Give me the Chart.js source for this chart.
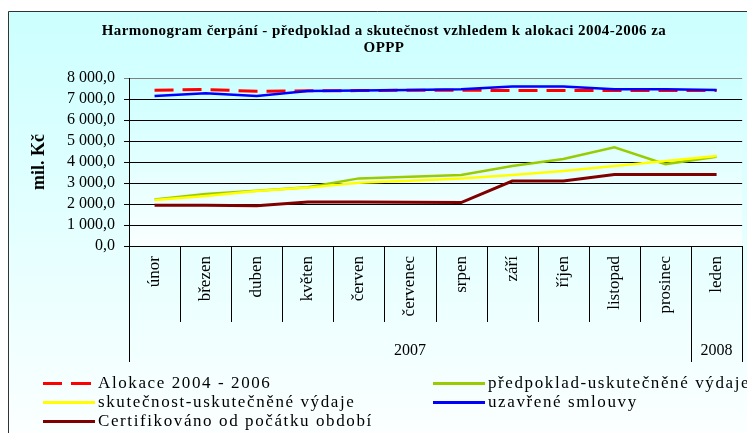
<!DOCTYPE html>
<html>
<head>
<meta charset="utf-8">
<script src="https://cdn.jsdelivr.net/npm/chart.js@4/dist/chart.umd.min.js"></script>
<style>
  html, body { margin: 0; padding: 0; background: #ffffff; }
  #wrap { position: relative; width: 747px; height: 433px; overflow: hidden; }
  #c { position: absolute; left: 0; top: 0; }
  .title { position: absolute; left: 0; width: 768px; text-align: center; font: bold 15px "Liberation Serif", serif; color: #000; letter-spacing: 0.45px; line-height: 17px; }
  .leg { position: absolute; font: 17px "Liberation Serif", serif; color: #000; letter-spacing: 1.6px; white-space: nowrap; line-height: 19px; }
  .sw { position: absolute; height: 0; }
</style>
</head>
<body>
<div id="wrap">
  <canvas id="c" width="747" height="433"></canvas>
  <div class="title" id="title" style="top:22px"></div>
  <div id="legend"></div>
</div>
<script>
// ---- data ----
const categories = ['únor','březen','duben','květen','červen','červenec','srpen','září','říjen','listopad','prosinec','leden'];
const years = ['2007','2008'];
const yearSpans = [11, 1];
const titleLines = ['Harmonogram čerpání - předpoklad a skutečnost vzhledem k alokaci 2004-2006 za', 'OPPP'];
const yAxisTitle = 'mil. Kč';
const alokace = [7420, 7450, 7370, 7390, 7400, 7420, 7420, 7400, 7400, 7400, 7400, 7400];
const predpoklad = [2220, 2480, 2630, 2800, 3220, 3300, 3380, 3810, 4140, 4700, 3900, 4250];
const skutecnost = [2190, 2380, 2620, 2780, 3010, 3110, 3220, 3380, 3570, 3810, 4050, 4290];
const smlouvy = [7140, 7270, 7140, 7380, 7400, 7430, 7460, 7590, 7590, 7460, 7460, 7430];
const certifikovano = [1940, 1940, 1920, 2100, 2100, 2080, 2070, 3095, 3095, 3410, 3410, 3410];
const seriesNames = ['Alokace 2004 - 2006', 'předpoklad-uskutečněné výdaje', 'skutečnost-uskutečněné výdaje', 'uzavřené smlouvy', 'Certifikováno od počátku období'];
const yMin = 0, yMax = 8000, yStep = 1000;

function fmt(v) {
  const s = Math.round(v).toString().replace(/\B(?=(\d{3})+(?!\d))/g, ' ');
  return s + ',0';
}

document.getElementById('title').innerHTML = titleLines.join('<br>');

const colors = ['#FF0000', '#99CC00', '#FFFF00', '#0000FF', '#800000'];
const seriesData = [alokace, predpoklad, skutecnost, smlouvy, certifikovano];
const orders = [4, 3, 2, 0, 1];

const datasets = seriesData.map((d, i) => ({
  label: seriesNames[i],
  data: d,
  borderColor: colors[i],
  backgroundColor: colors[i],
  borderWidth: i === 0 ? 3 : (i === 4 ? 3 : 2.5),
  borderDash: i === 0 ? [19, 9] : [],
  pointRadius: 0,
  tension: 0,
  fill: false,
  order: orders[i]
}));

// legend (HTML)
const legendPos = [
  {x: 43, y: 383}, {x: 433, y: 383},
  {x: 43, y: 402}, {x: 433, y: 402},
  {x: 43, y: 421}
];
const legEl = document.getElementById('legend');
seriesNames.forEach((name, i) => {
  const p = legendPos[i];
  const sw = document.createElement('div');
  sw.className = 'sw';
  sw.style.left = p.x + 'px';
  sw.style.top = (p.y - 1.5) + 'px';
  sw.style.width = '52px';
  if (i === 0) {
    sw.style.width = '48px';
    sw.style.height = '3px';
    sw.style.background = 'linear-gradient(to right, ' + colors[i] + ' 0 19px, transparent 19px 28px, ' + colors[i] + ' 28px 48px)';
  } else {
    sw.style.borderTop = '3px solid ' + colors[i];
  }
  legEl.appendChild(sw);
  const t = document.createElement('div');
  t.className = 'leg';
  t.style.left = (p.x + 55) + 'px';
  t.style.top = (p.y - 10) + 'px';
  t.textContent = name;
  legEl.appendChild(t);
});

const bgPlugin = {
  id: 'bg',
  beforeDraw(chart) {
    const ctx = chart.ctx;
    const ca = chart.chartArea;
    ctx.save();
    ctx.fillStyle = '#ffffff';
    ctx.fillRect(0, 0, chart.width, chart.height);
    const g = ctx.createLinearGradient(0, 11, 0, 433);
    g.addColorStop(0, '#CCFFFF');
    g.addColorStop(1, '#FBFFFF');
    ctx.fillStyle = g;
    ctx.fillRect(8, 11, chart.width - 8, chart.height - 11);
    const g2 = ctx.createLinearGradient(0, ca.top, 0, ca.bottom);
    g2.addColorStop(0, '#CCFFFF');
    g2.addColorStop(1, '#FAFFFF');
    ctx.fillStyle = g2;
    ctx.fillRect(ca.left, ca.top, ca.right - ca.left, ca.bottom - ca.top);
    ctx.strokeStyle = '#333333';
    ctx.lineWidth = 1;
    ctx.beginPath();
    ctx.moveTo(8.5, chart.height);
    ctx.lineTo(8.5, 11.5);
    ctx.lineTo(chart.width, 11.5);
    ctx.stroke();
    ctx.restore();
  },
  afterDraw(chart) {
    const ctx = chart.ctx;
    const xs = chart.scales.x;
    const n = categories.length;
    const edge = i => i === 0 ? xs.left : (i === n ? xs.right : (xs.getPixelForValue(i - 1) + xs.getPixelForValue(i)) / 2);
    const groupEdges = [0];
    let acc = 0;
    yearSpans.forEach(s => { acc += s; groupEdges.push(acc); });
    const bottom = chart.chartArea.bottom;
    ctx.save();
    ctx.strokeStyle = '#000000';
    ctx.lineWidth = 1;
    for (let i = 0; i <= n; i++) {
      const x = Math.round(edge(i)) + 0.5;
      const long = groupEdges.includes(i);
      ctx.beginPath();
      ctx.moveTo(x, bottom);
      ctx.lineTo(x, bottom + (long ? 116 : 76));
      ctx.stroke();
    }
    ctx.fillStyle = '#000000';
    ctx.font = '16px "Liberation Serif", serif';
    ctx.textAlign = 'center';
    ctx.textBaseline = 'middle';
    years.forEach((y, k) => {
      const x0 = edge(groupEdges[k]);
      const x1 = edge(groupEdges[k + 1]);
      ctx.fillText(y, (x0 + x1) / 2, bottom + 105);
    });
    ctx.restore();
  }
};

new Chart(document.getElementById('c'), {
  type: 'line',
  data: { labels: categories, datasets },
  plugins: [bgPlugin],
  options: {
    responsive: false,
    animation: false,
    devicePixelRatio: 1,
    layout: { padding: { top: 78, left: 0, right: 0, bottom: 0 } },
    plugins: { legend: { display: false }, title: { display: false }, tooltip: { enabled: false } },
    scales: {
      x: {
        type: 'category',
        offset: true,
        grid: { display: false, drawTicks: false },
        border: { display: true, color: '#000000', width: 1 },
        ticks: {
          autoSkip: false,
          minRotation: 90,
          maxRotation: 90,
          padding: 10,
          color: '#000000',
          font: { family: '"Liberation Serif", serif', size: 17 }
        },
        afterFit(s) { s.height = 187; }
      },
      y: {
        min: yMin,
        max: yMax,
        ticks: {
          stepSize: yStep,
          autoSkip: false,
          padding: 9,
          color: '#000000',
          font: { family: '"Liberation Serif", serif', size: 16 },
          callback: v => fmt(v)
        },
        grid: {
          color: ctx => (ctx.tick && ctx.tick.value === yMax) ? '#808080' : '#000000',
          lineWidth: 1,
          drawTicks: true,
          tickLength: 5
        },
        border: { display: true, color: '#000000', width: 1 },
        title: {
          display: true,
          text: yAxisTitle,
          color: '#000000',
          font: { family: '"Liberation Serif", serif', size: 18, weight: 'bold' },
          padding: { top: 29, bottom: 0 }
        },
        afterFit(s) { s.width = 129; }
      }
    }
  }
});
</script>
</body>
</html>
